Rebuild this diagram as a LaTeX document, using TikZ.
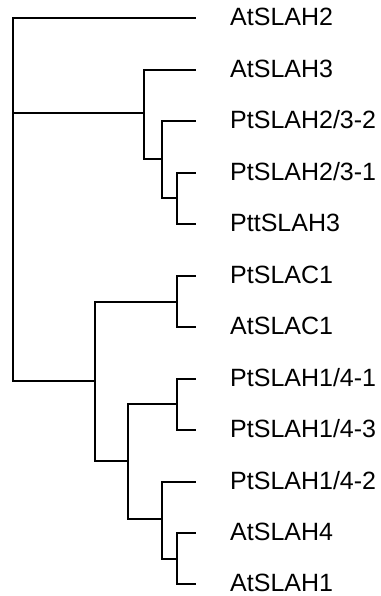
\documentclass[tikz,border=0pt]{standalone}
\usepackage{fontspec}
\setmainfont{Liberation Sans}
\begin{document}
\begin{tikzpicture}[x=1pt,y=-1pt,
  branch/.style={draw=black,line width=2pt,line cap=rect,line join=miter},
  taxon/.style={anchor=base west,inner sep=0pt,font=\fontsize{25}{30}\selectfont}]
\useasboundingbox (0,0) rectangle (380,596);

% leaf tips
\foreach \i/\y in {1/18.5,2/70,3/121.4,4/172.9,5/224.3,6/275.8,7/327.2,8/378.7,9/430.1,10/481.6,11/533,12/584}
  \coordinate (L\i) at (195,\y);

% internal nodes
\coordinate (root) at (12.5,200);
\coordinate (A) at (144,113.3);
\coordinate (B) at (162,159.5);
\coordinate (C) at (177,197.6);
\coordinate (D) at (95,381);
\coordinate (E) at (177,301.5);
\coordinate (F) at (128,461);
\coordinate (G) at (177,404.4);
\coordinate (H) at (162,519);
\coordinate (I) at (177,558.5);

% branches
\draw[branch] (root) |- (L1);
\draw[branch] (root) |- (A);
\draw[branch] (root) |- (D);
\draw[branch] (A) |- (L2);
\draw[branch] (A) |- (B);
\draw[branch] (B) |- (L3);
\draw[branch] (B) |- (C);
\draw[branch] (C) |- (L4);
\draw[branch] (C) |- (L5);
\draw[branch] (D) |- (E);
\draw[branch] (D) |- (F);
\draw[branch] (E) |- (L6);
\draw[branch] (E) |- (L7);
\draw[branch] (F) |- (G);
\draw[branch] (F) |- (H);
\draw[branch] (G) |- (L8);
\draw[branch] (G) |- (L9);
\draw[branch] (H) |- (L10);
\draw[branch] (H) |- (I);
\draw[branch] (I) |- (L11);
\draw[branch] (I) |- (L12);

% taxon labels
\foreach \i/\t in {1/AtSLAH2,2/AtSLAH3,3/PtSLAH2\slash 3-2,4/PtSLAH2\slash 3-1,5/PttSLAH3,6/PtSLAC1,7/AtSLAC1,8/PtSLAH1\slash 4-1,9/PtSLAH1\slash 4-3,10/PtSLAH1\slash 4-2,11/AtSLAH4,12/AtSLAH1}
  \node[taxon] (T\i) at ([xshift=35pt,yshift=-7.5pt]L\i) {\t};
\end{tikzpicture}
\end{document}
